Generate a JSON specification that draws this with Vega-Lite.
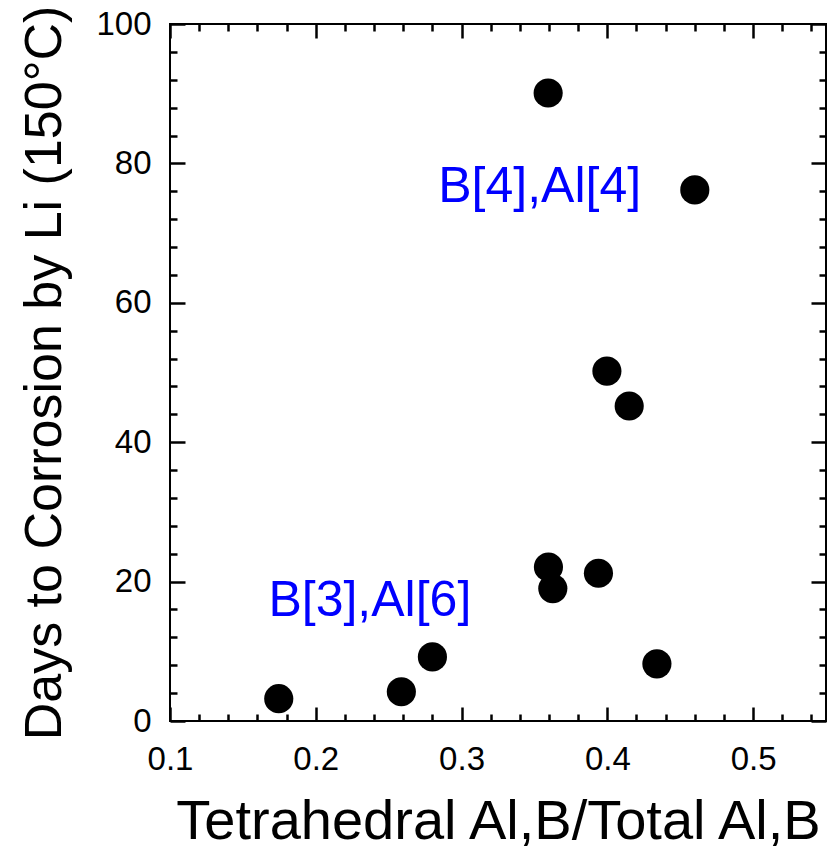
{
  "$schema": "https://vega.github.io/schema/vega-lite/v6.json",
  "width": 656,
  "height": 697,
  "autosize": "none",
  "padding": {"left": 170, "top": 24, "right": 1, "bottom": 129},
  "background": "white",
  "config": {
    "view": {"stroke": "#000", "strokeWidth": 2},
    "font": "Liberation Sans",
    "axis": {"grid": false, "ticks": true}
  },
  "datasets": {
    "pts": [
      {"frac": 0.1746, "days": 3.2},
      {"frac": 0.2587, "days": 4.2},
      {"frac": 0.2800, "days": 9.2},
      {"frac": 0.3594, "days": 90.1},
      {"frac": 0.4600, "days": 76.2},
      {"frac": 0.3997, "days": 50.2},
      {"frac": 0.4150, "days": 45.2},
      {"frac": 0.3596, "days": 22.1},
      {"frac": 0.3626, "days": 19.0},
      {"frac": 0.3939, "days": 21.2},
      {"frac": 0.4340, "days": 8.2}
    ],
    "notes": [
      {"label": "B[4],Al[4]", "frac": 0.3536, "days": 74.5},
      {"label": "B[3],Al[6]", "frac": 0.2371, "days": 15.0}
    ]
  },
  "layer": [
    {
      "data": {"name": "pts"},
      "mark": {"type": "point", "filled": true, "shape": "circle", "color": "#000", "opacity": 1, "size": 850},
      "encoding": {
        "x": {
          "field": "frac", "type": "quantitative",
          "scale": {"domain": [0.1, 0.55], "nice": false, "zero": false},
          "axis": {
            "orient": "bottom", "offset": -14, "domain": false, "ticks": true,
            "title": "Tetrahedral Al,B/Total Al,B",
            "titleFontSize": 56, "titleFontWeight": "normal", "titleColor": "#000",
            "titlePadding": 18,
            "values": [0.1, 0.2, 0.3, 0.4, 0.5],
            "format": ".1f",
            "labelFontSize": 33, "labelColor": "#000", "labelPadding": 22,
            "labelFlush": false,
            "tickSize": 14, "tickColor": "#000", "tickWidth": 2.5, "tickOpacity": 1
          }
        },
        "y": {
          "field": "days", "type": "quantitative",
          "scale": {"domain": [0, 100], "nice": false, "zero": false},
          "axis": {
            "orient": "left", "offset": -15, "domain": false, "ticks": true,
            "title": "Days to Corrosion by Li (150°C)",
            "titleFontSize": 52, "titleFontWeight": "normal", "titleColor": "#000",
            "titlePadding": 24,
            "values": [0, 20, 40, 60, 80, 100],
            "format": "d",
            "labelFontSize": 33, "labelColor": "#000", "labelPadding": 19,
            "labelFlush": false,
            "tickSize": 15, "tickColor": "#000", "tickWidth": 2.5, "tickOpacity": 1
          }
        }
      }
    },
    {
      "data": {"name": "pts"},
      "mark": {"type": "point", "opacity": 0},
      "encoding": {
        "x": {
          "field": "frac", "type": "quantitative",
          "axis": {
            "orient": "bottom", "offset": -7, "title": null, "labels": false, "domain": false, "ticks": true,
            "values": [0.12,0.14,0.16,0.18,0.22,0.24,0.26,0.28,0.32,0.34,0.36,0.38,0.42,0.44,0.46,0.48,0.52,0.54],
            "tickSize": 7, "tickColor": "#000", "tickWidth": 2.5, "tickOpacity": 1
          }
        },
        "y": {
          "field": "days", "type": "quantitative",
          "axis": {
            "orient": "left", "offset": -7, "title": null, "labels": false, "domain": false, "ticks": true,
            "values": [4,8,12,16,24,28,32,36,44,48,52,56,64,68,72,76,84,88,92,96],
            "tickSize": 7, "tickColor": "#000", "tickWidth": 2.5, "tickOpacity": 1
          }
        }
      }
    },
    {
      "data": {"name": "pts"},
      "mark": {"type": "point", "opacity": 0},
      "encoding": {
        "x": {
          "field": "frac", "type": "quantitative",
          "axis": {
            "orient": "top", "offset": -7, "title": null, "labels": false, "domain": false, "ticks": true,
            "values": [0.12,0.14,0.16,0.18,0.22,0.24,0.26,0.28,0.32,0.34,0.36,0.38,0.42,0.44,0.46,0.48,0.52,0.54],
            "tickSize": 7, "tickColor": "#000", "tickWidth": 2.5, "tickOpacity": 1
          }
        },
        "y": {
          "field": "days", "type": "quantitative",
          "axis": {
            "orient": "right", "offset": -7, "title": null, "labels": false, "domain": false, "ticks": true,
            "values": [4,8,12,16,24,28,32,36,44,48,52,56,64,68,72,76,84,88,92,96],
            "tickSize": 7, "tickColor": "#000", "tickWidth": 2.5, "tickOpacity": 1
          }
        }
      }
    },
    {
      "data": {"name": "notes"},
      "mark": {"type": "text", "color": "#0000FF", "fontSize": 50, "font": "Liberation Sans", "align": "center", "baseline": "alphabetic"},
      "encoding": {
        "x": {
          "field": "frac", "type": "quantitative",
          "axis": {
            "orient": "top", "offset": -14, "title": null, "labels": false, "domain": false, "ticks": true,
            "values": [0.1, 0.2, 0.3, 0.4, 0.5],
            "tickSize": 14, "tickColor": "#000", "tickWidth": 2.5, "tickOpacity": 1
          }
        },
        "y": {
          "field": "days", "type": "quantitative",
          "axis": {
            "orient": "right", "offset": -15, "title": null, "labels": false, "domain": false, "ticks": true,
            "values": [0, 20, 40, 60, 80, 100],
            "tickSize": 15, "tickColor": "#000", "tickWidth": 2.5, "tickOpacity": 1
          }
        },
        "text": {"field": "label"}
      }
    }
  ],
  "resolve": {"axis": {"x": "independent", "y": "independent"}}
}
